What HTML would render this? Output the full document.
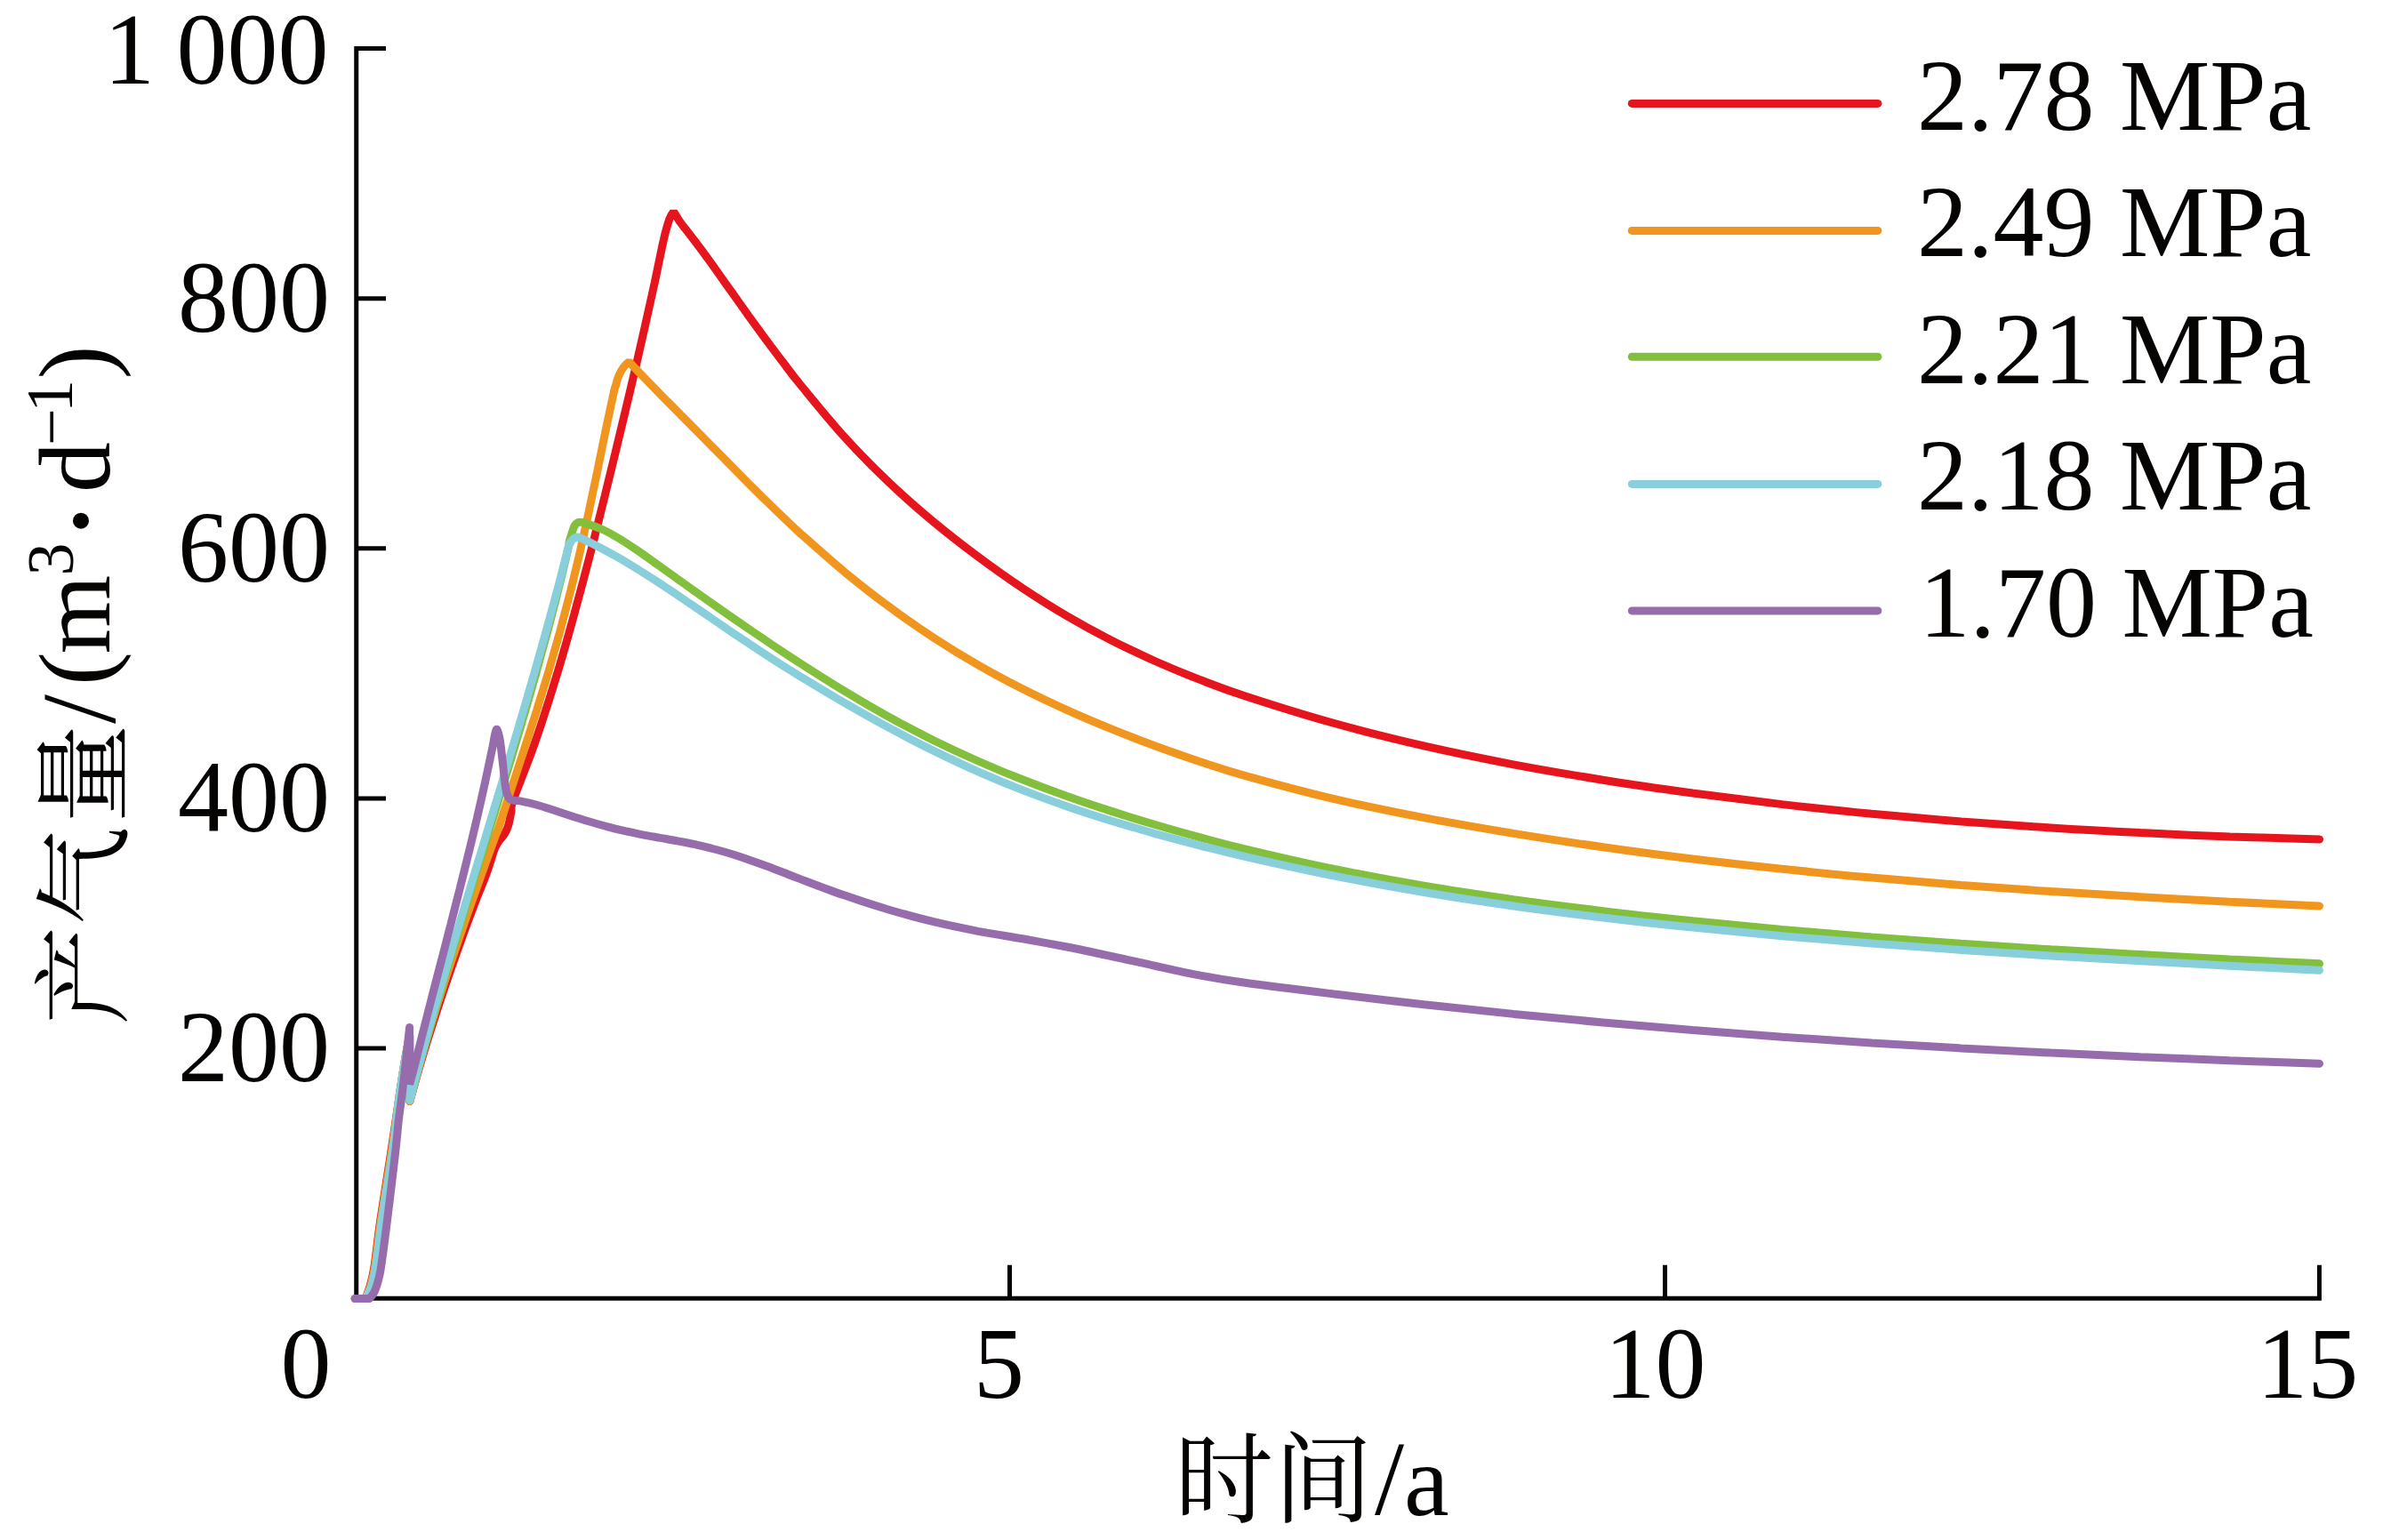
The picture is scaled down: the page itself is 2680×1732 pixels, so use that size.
<!DOCTYPE html>
<html lang="zh"><head><meta charset="utf-8"><title>产气量 - 时间</title>
<style>html,body{margin:0;padding:0;background:#fff}svg{display:block}</style></head>
<body>
<svg width="2680" height="1732" viewBox="0 0 2680 1732">
<rect width="2680" height="1732" fill="#fff"/>
<g stroke="#060303" stroke-width="5" fill="none">
<path d="M434 54.6 H400.75 V1460.25 H2608.4 V1422.75"/>
<path d="M400.75 335.73 H434"/>
<path d="M400.75 616.86 H434"/>
<path d="M400.75 897.99 H434"/>
<path d="M400.75 1179.12 H434"/>
<path d="M1135.5 1460.25 V1422.75"/>
<path d="M1872.5 1460.25 V1422.75"/>
</g>
<g fill="none" stroke-width="9" stroke-linecap="round" stroke-linejoin="bevel">
<path stroke="#E6141C" d="M399.2 1460.5 L411.0 1460.5 C411.8 1458.2 414.2 1452.9 415.9 1447.0 C417.5 1441.1 418.9 1437.6 420.9 1425.0 C422.9 1412.4 424.7 1393.3 427.9 1371.6 C431.1 1349.9 436.5 1317.3 439.9 1295.0 C443.3 1272.7 446.0 1254.2 448.5 1237.5 C451.0 1220.8 453.0 1207.1 455.0 1195.0 C457.0 1182.9 459.7 1170.0 460.6 1165.0 L460.8 1238.5 C463.0 1230.9 469.3 1208.1 473.8 1192.9 C478.3 1177.7 483.0 1162.5 487.9 1147.3 C492.8 1132.1 497.8 1116.9 503.0 1101.7 C508.2 1086.5 513.5 1071.3 519.0 1056.1 C524.5 1040.9 531.9 1021.4 536.0 1010.5 C540.2 999.6 541.8 996.3 543.9 990.9 C546.0 985.5 547.2 982.2 548.7 977.9 C550.2 973.6 551.9 968.1 552.9 964.9 C553.9 961.6 554.1 960.6 554.9 958.4 C555.7 956.2 556.4 954.0 557.5 951.9 C558.6 949.8 559.9 947.6 561.4 945.5 C562.9 943.4 565.1 941.2 566.6 939.0 C568.1 936.8 569.2 934.7 570.1 932.5 C571.0 930.3 571.5 929.2 572.3 926.0 C573.1 922.8 574.1 917.3 574.9 913.0 C575.7 908.7 573.3 911.3 577.2 900.0 C581.1 888.7 591.9 862.2 598.1 845.0 C604.3 827.9 609.2 813.1 614.3 797.1 C619.5 781.1 624.4 765.1 629.2 749.1 C633.9 733.2 638.5 717.2 642.9 701.2 C647.4 685.2 651.6 669.2 655.9 653.2 C660.1 637.2 664.2 621.3 668.3 605.3 C672.3 589.3 676.3 573.3 680.3 557.3 C684.2 541.3 688.1 525.4 692.0 509.4 C695.9 493.4 699.7 477.4 703.5 461.4 C707.3 445.4 711.0 429.4 714.8 413.5 C718.5 397.5 722.1 381.5 725.7 365.5 C729.3 349.5 732.9 333.5 736.3 317.6 C739.8 301.6 743.6 281.5 746.4 269.6 C749.1 257.7 751.0 251.5 752.9 246.2 C754.8 240.9 756.8 239.4 757.6 238.0 L764.7 249.6 C767.9 253.7 777.6 265.9 784.0 274.5 C790.5 283.0 796.9 292.0 803.4 301.0 C809.8 309.9 816.2 319.1 822.7 328.2 C829.1 337.2 835.6 346.3 842.0 355.3 C848.5 364.2 854.9 373.1 861.3 381.8 C867.8 390.5 874.2 399.1 880.7 407.6 C887.1 416.0 888.4 418.4 900.0 432.5 C911.6 446.5 933.3 473.4 950.0 491.8 C966.7 510.2 983.3 527.0 1000.0 542.8 C1016.7 558.7 1033.3 573.1 1050.0 587.0 C1066.7 600.9 1083.3 613.7 1100.0 626.1 C1116.7 638.5 1133.3 650.3 1150.0 661.5 C1166.7 672.6 1183.3 683.1 1200.0 692.9 C1216.7 702.7 1233.3 711.7 1250.0 720.2 C1266.7 728.7 1283.3 736.6 1300.0 744.0 C1316.7 751.4 1333.3 758.2 1350.0 764.6 C1366.7 771.1 1374.9 774.6 1400.0 782.7 C1425.1 790.9 1467.1 804.2 1500.7 813.5 C1534.3 822.9 1567.8 831.2 1601.4 838.9 C1635.0 846.6 1668.6 853.4 1702.1 859.8 C1735.7 866.2 1769.3 871.8 1802.8 877.2 C1836.4 882.6 1870.0 887.4 1903.5 892.0 C1937.1 896.5 1970.7 900.7 2004.2 904.6 C2037.8 908.4 2071.4 912.0 2105.0 915.2 C2138.5 918.4 2172.1 921.3 2205.7 924.0 C2239.2 926.6 2272.8 928.9 2306.4 931.0 C2339.9 933.2 2373.5 935.0 2407.1 936.6 C2440.7 938.3 2474.2 939.7 2507.8 940.9 C2541.4 942.1 2591.7 943.4 2608.5 943.9"/>
<circle cx="411.0" cy="1460.5" r="4.5" fill="#E6141C" stroke="none"/>
<circle cx="460.6" cy="1165.0" r="4.5" fill="#E6141C" stroke="none"/>
<circle cx="460.8" cy="1238.5" r="4.5" fill="#E6141C" stroke="none"/>
<path stroke="#F0961E" d="M399.2 1460.5 L411.0 1460.5 C411.9 1458.2 414.8 1452.9 416.5 1447.0 C418.2 1441.1 419.5 1437.6 421.5 1425.0 C423.5 1412.4 425.3 1393.3 428.5 1371.6 C431.7 1349.9 437.2 1317.3 440.5 1295.0 C443.8 1272.7 446.1 1254.2 448.5 1237.5 C450.9 1220.8 453.0 1207.1 455.0 1195.0 C457.0 1182.9 459.7 1170.0 460.6 1165.0 L460.8 1238.5 C462.7 1231.4 468.3 1210.0 472.3 1195.7 C476.3 1181.5 480.4 1167.2 484.7 1152.9 C489.0 1138.7 493.5 1124.4 498.1 1110.1 C502.6 1095.9 507.4 1081.6 512.2 1067.4 C517.0 1053.1 521.9 1038.8 526.9 1024.6 C531.9 1010.3 537.0 996.0 542.1 981.8 C547.2 967.5 554.5 947.2 557.6 939.0 C560.6 930.8 557.4 941.0 560.3 932.5 C563.2 924.0 569.9 902.7 574.8 887.9 C579.6 873.0 584.6 858.1 589.4 843.2 C594.2 828.4 599.0 813.5 603.7 798.6 C608.3 783.7 612.9 768.9 617.3 754.0 C621.6 739.1 625.9 724.2 630.0 709.4 C634.0 694.5 637.9 679.6 641.7 664.7 C645.4 649.9 648.9 635.0 652.4 620.1 C655.8 605.2 659.0 590.4 662.2 575.5 C665.4 560.6 668.5 545.7 671.6 530.9 C674.6 516.0 677.6 501.1 680.7 486.2 C683.8 471.4 688.2 450.4 690.2 441.6 C692.1 432.8 691.8 436.0 692.5 433.5 C693.2 431.0 693.8 428.5 694.5 426.4 C695.2 424.3 695.9 422.5 696.7 420.8 C697.5 419.1 698.5 417.3 699.3 416.0 C700.1 414.7 700.8 413.7 701.5 412.8 C702.2 411.9 702.8 411.1 703.5 410.4 C704.2 409.6 704.9 408.9 705.6 408.3 C706.3 407.7 707.2 407.1 707.5 406.9 C710.7 410.4 720.3 420.5 726.8 427.2 C733.2 433.8 739.6 440.3 746.0 446.8 C752.4 453.3 758.8 459.7 765.2 466.2 C771.7 472.6 778.1 479.1 784.5 485.6 C790.9 492.1 797.3 498.7 803.8 505.2 C810.2 511.7 816.6 518.2 823.0 524.7 C829.4 531.2 835.8 537.7 842.2 544.1 C848.7 550.5 855.1 556.9 861.5 563.1 C867.9 569.4 874.3 575.6 880.8 581.7 C887.2 587.8 888.5 589.5 900.0 599.8 C911.5 610.0 933.3 629.6 950.0 643.4 C966.7 657.1 983.3 670.1 1000.0 682.4 C1016.7 694.7 1033.3 706.3 1050.0 717.2 C1066.7 728.1 1083.3 738.3 1100.0 747.9 C1116.7 757.5 1133.3 766.4 1150.0 774.8 C1166.7 783.3 1183.3 791.1 1200.0 798.6 C1216.7 806.1 1233.3 813.1 1250.0 819.9 C1266.7 826.7 1283.3 833.1 1300.0 839.3 C1316.7 845.4 1333.3 851.3 1350.0 856.8 C1366.7 862.3 1374.9 865.4 1400.0 872.3 C1425.1 879.3 1467.1 890.7 1500.7 898.6 C1534.3 906.5 1567.8 913.2 1601.4 919.7 C1635.0 926.2 1668.6 931.9 1702.1 937.4 C1735.7 942.9 1769.3 948.0 1802.8 952.7 C1836.4 957.5 1870.0 961.9 1903.5 966.0 C1937.1 970.1 1970.7 973.8 2004.2 977.3 C2037.8 980.9 2071.4 984.1 2105.0 987.1 C2138.5 990.1 2172.1 992.8 2205.7 995.4 C2239.2 998.0 2272.8 1000.4 2306.4 1002.6 C2339.9 1004.8 2373.5 1006.8 2407.1 1008.7 C2440.7 1010.7 2474.2 1012.5 2507.8 1014.2 C2541.4 1015.9 2591.7 1018.2 2608.5 1019.0"/>
<circle cx="411.0" cy="1460.5" r="4.5" fill="#F0961E" stroke="none"/>
<circle cx="460.6" cy="1165.0" r="4.5" fill="#F0961E" stroke="none"/>
<circle cx="460.8" cy="1238.5" r="4.5" fill="#F0961E" stroke="none"/>
<path stroke="#82BF3C" d="M399.2 1460.5 L411.0 1460.5 C412.1 1458.2 415.6 1452.9 417.5 1447.0 C419.4 1441.1 420.5 1437.6 422.5 1425.0 C424.5 1412.4 426.3 1393.3 429.5 1371.6 C432.7 1349.9 438.3 1317.3 441.5 1295.0 C444.7 1272.7 446.2 1254.2 448.5 1237.5 C450.8 1220.8 453.0 1207.1 455.0 1195.0 C457.0 1182.9 459.7 1170.0 460.6 1165.0 L460.8 1238.0 C463.0 1230.0 469.4 1206.1 473.8 1190.1 C478.2 1174.2 482.7 1158.2 487.3 1142.2 C491.8 1126.3 496.5 1110.3 501.3 1094.3 C506.0 1078.4 510.8 1062.4 515.7 1046.5 C520.5 1030.5 525.4 1014.5 530.3 998.6 C535.2 982.6 540.1 966.7 545.1 950.7 C550.0 934.7 554.9 918.8 559.8 902.8 C564.7 886.8 569.5 870.9 574.3 854.9 C579.1 839.0 583.9 823.0 588.5 807.0 C593.2 791.1 597.8 775.1 602.3 759.2 C606.8 743.2 611.2 727.2 615.4 711.3 C619.7 695.3 623.9 679.3 627.8 663.4 C631.8 647.4 637.3 624.4 639.3 615.5 C641.4 606.6 639.5 612.2 640.0 610.0 C640.5 607.8 641.6 604.6 642.3 602.3 C643.0 600.0 643.8 597.6 644.3 596.0 C644.8 594.4 645.1 593.5 645.6 592.5 C646.1 591.5 646.6 590.5 647.2 589.7 C647.8 589.0 648.4 588.4 649.3 588.0 C650.1 587.6 651.1 587.3 652.3 587.3 C653.4 587.3 652.2 586.6 656.2 587.9 C660.2 589.2 669.7 591.9 676.5 595.0 C683.3 598.0 690.1 602.0 696.8 606.0 C703.6 610.1 710.4 614.7 717.2 619.3 C723.9 623.9 730.7 628.9 737.5 633.7 C744.2 638.5 751.0 643.4 757.8 648.2 C764.6 653.0 771.3 657.9 778.1 662.7 C784.9 667.5 791.6 672.3 798.4 677.0 C805.2 681.8 812.0 686.5 818.7 691.2 C825.5 695.9 832.3 700.6 839.0 705.3 C845.8 709.9 852.6 714.5 859.4 719.1 C866.1 723.7 872.9 728.2 879.7 732.7 C886.5 737.2 888.3 738.6 900.0 746.0 C911.7 753.5 933.3 767.4 950.0 777.4 C966.7 787.5 983.3 797.3 1000.0 806.5 C1016.7 815.7 1033.3 824.4 1050.0 832.7 C1066.7 840.9 1083.3 848.6 1100.0 856.0 C1116.7 863.4 1133.3 870.3 1150.0 876.8 C1166.7 883.4 1183.3 889.6 1200.0 895.5 C1216.7 901.5 1233.3 907.0 1250.0 912.4 C1266.7 917.8 1283.3 922.9 1300.0 927.8 C1316.7 932.8 1333.3 937.4 1350.0 941.9 C1366.7 946.4 1374.9 948.9 1400.0 954.8 C1425.1 960.8 1467.1 970.6 1500.7 977.5 C1534.3 984.3 1567.8 990.5 1601.4 996.2 C1635.0 1001.9 1668.6 1006.9 1702.1 1011.7 C1735.7 1016.4 1769.3 1020.6 1802.8 1024.6 C1836.4 1028.7 1870.0 1032.3 1903.5 1035.8 C1937.1 1039.3 1970.7 1042.5 2004.2 1045.5 C2037.8 1048.5 2071.4 1051.3 2105.0 1054.0 C2138.5 1056.6 2172.1 1059.0 2205.7 1061.3 C2239.2 1063.7 2272.8 1065.8 2306.4 1067.8 C2339.9 1069.9 2373.5 1071.8 2407.1 1073.6 C2440.7 1075.5 2474.2 1077.2 2507.8 1078.9 C2541.4 1080.6 2591.7 1083.0 2608.5 1083.8"/>
<circle cx="411.0" cy="1460.5" r="4.5" fill="#82BF3C" stroke="none"/>
<circle cx="460.6" cy="1165.0" r="4.5" fill="#82BF3C" stroke="none"/>
<circle cx="460.8" cy="1238.0" r="4.5" fill="#82BF3C" stroke="none"/>
<path stroke="#88CEDB" d="M399.2 1460.5 L411.0 1460.5 C412.1 1458.2 415.6 1452.9 417.5 1447.0 C419.4 1441.1 420.5 1437.6 422.5 1425.0 C424.5 1412.4 426.3 1393.3 429.5 1371.6 C432.7 1349.9 438.3 1317.3 441.5 1295.0 C444.7 1272.7 446.2 1254.2 448.5 1237.5 C450.8 1220.8 453.0 1207.1 455.0 1195.0 C457.0 1182.9 459.7 1170.0 460.6 1165.0 L460.8 1237.6 C462.9 1229.6 469.0 1205.7 473.3 1189.7 C477.7 1173.8 482.2 1157.8 486.7 1141.9 C491.2 1125.9 495.8 1110.0 500.5 1094.0 C505.1 1078.1 509.8 1062.1 514.6 1046.2 C519.3 1030.2 524.1 1014.3 528.9 998.3 C533.7 982.4 538.5 966.4 543.4 950.5 C548.2 934.5 553.0 918.6 557.8 902.6 C562.7 886.7 567.5 870.7 572.2 854.8 C577.0 838.8 581.7 822.9 586.4 806.9 C591.1 791.0 595.8 775.0 600.3 759.1 C604.9 743.1 609.4 727.2 613.8 711.2 C618.2 695.3 622.6 679.3 626.8 663.4 C631.1 647.4 636.9 624.1 639.2 615.5 C641.6 606.9 640.4 612.7 641.0 611.5 C641.6 610.3 641.9 609.4 642.6 608.4 C643.3 607.4 644.2 606.3 645.2 605.6 C646.2 604.9 647.2 604.3 648.4 604.2 C649.6 604.1 648.4 603.1 652.5 604.9 C656.6 606.7 666.2 611.4 673.1 614.9 C680.0 618.5 686.9 622.3 693.8 626.2 C700.6 630.1 707.5 634.2 714.4 638.5 C721.2 642.7 728.1 647.1 735.0 651.5 C741.9 656.0 748.8 660.5 755.6 665.1 C762.5 669.7 769.4 674.4 776.2 679.1 C783.1 683.7 790.0 688.4 796.9 693.1 C803.8 697.8 810.6 702.5 817.5 707.2 C824.4 711.8 831.2 716.5 838.1 721.1 C845.0 725.7 851.9 730.2 858.8 734.7 C865.6 739.2 872.5 743.6 879.4 748.0 C886.2 752.3 888.2 753.7 900.0 760.8 C911.8 767.9 933.3 781.0 950.0 790.6 C966.7 800.2 983.3 809.6 1000.0 818.6 C1016.7 827.5 1033.3 836.2 1050.0 844.4 C1066.7 852.6 1083.3 860.5 1100.0 867.8 C1116.7 875.2 1133.3 882.1 1150.0 888.6 C1166.7 895.1 1183.3 901.1 1200.0 906.9 C1216.7 912.7 1233.3 918.0 1250.0 923.2 C1266.7 928.3 1283.3 933.1 1300.0 937.8 C1316.7 942.4 1333.3 946.8 1350.0 951.1 C1366.7 955.3 1374.9 957.6 1400.0 963.3 C1425.1 969.0 1467.1 978.4 1500.7 985.1 C1534.3 991.8 1567.8 997.9 1601.4 1003.5 C1635.0 1009.2 1668.6 1014.3 1702.1 1019.0 C1735.7 1023.8 1769.3 1028.0 1802.8 1032.0 C1836.4 1036.1 1870.0 1039.7 1903.5 1043.1 C1937.1 1046.6 1970.7 1049.7 2004.2 1052.7 C2037.8 1055.7 2071.4 1058.5 2105.0 1061.1 C2138.5 1063.7 2172.1 1066.1 2205.7 1068.4 C2239.2 1070.7 2272.8 1072.9 2306.4 1074.9 C2339.9 1077.0 2373.5 1078.9 2407.1 1080.8 C2440.7 1082.7 2474.2 1084.4 2507.8 1086.2 C2541.4 1087.9 2591.7 1090.4 2608.5 1091.2"/>
<circle cx="411.0" cy="1460.5" r="4.5" fill="#88CEDB" stroke="none"/>
<circle cx="460.6" cy="1165.0" r="4.5" fill="#88CEDB" stroke="none"/>
<circle cx="460.8" cy="1237.6" r="4.5" fill="#88CEDB" stroke="none"/>
<path stroke="#966CAC" d="M399.2 1460.5 L415.4 1460.5 C416.4 1459.1 419.4 1457.2 421.5 1452.0 C423.6 1446.8 425.5 1442.4 427.9 1429.0 C430.2 1415.6 432.8 1393.9 435.6 1371.6 C438.4 1349.3 442.7 1313.6 444.8 1295.0 C446.9 1276.4 447.2 1269.6 448.3 1260.0 C449.4 1250.4 450.1 1246.8 451.3 1237.5 C452.5 1228.2 453.8 1217.6 455.3 1203.9 C456.9 1190.2 459.7 1163.5 460.6 1155.4 L460.6 1219.6 C461.1 1217.9 462.4 1212.8 463.3 1209.5 C464.2 1206.2 463.8 1208.2 465.9 1200.0 C468.0 1191.8 472.5 1173.3 475.9 1160.0 C479.3 1146.7 482.7 1133.3 486.1 1120.0 C489.6 1106.7 493.0 1093.3 496.5 1080.0 C499.9 1066.7 503.4 1053.3 506.8 1040.0 C510.2 1026.7 513.6 1013.3 517.0 1000.0 C520.3 986.7 523.7 973.3 526.9 960.0 C530.2 946.7 533.4 933.3 536.5 920.0 C539.6 906.7 542.6 893.3 545.5 880.0 C548.4 866.7 552.1 849.0 554.0 840.0 C555.8 831.0 555.8 829.3 556.6 826.0 C557.4 822.7 557.9 820.3 558.6 820.2 C559.3 820.1 560.1 823.1 560.8 825.5 C561.5 827.9 561.8 829.1 562.6 834.5 C563.4 839.9 564.5 850.1 565.4 858.0 C566.3 865.9 567.3 876.2 568.1 882.0 C568.9 887.8 569.1 889.7 570.0 892.5 C570.9 895.3 571.9 897.5 573.3 898.8 C574.7 900.1 576.5 899.9 578.5 900.3 C580.5 900.6 580.6 900.0 585.0 900.9 C589.4 901.8 598.1 903.7 604.7 905.5 C611.2 907.3 617.8 909.7 624.4 911.8 C630.9 913.9 637.5 916.1 644.1 918.2 C650.6 920.3 657.2 922.3 663.8 924.3 C670.3 926.2 676.9 928.1 683.4 929.8 C690.0 931.6 696.6 933.2 703.1 934.7 C709.7 936.2 716.2 937.5 722.8 938.8 C729.4 940.1 735.9 941.2 742.5 942.4 C749.1 943.6 755.6 944.6 762.2 945.9 C768.8 947.1 775.3 948.3 781.9 949.7 C788.4 951.2 795.0 952.7 801.6 954.5 C808.1 956.2 814.7 958.0 821.2 960.0 C827.8 962.0 834.4 964.2 840.9 966.4 C847.5 968.7 854.1 971.1 860.6 973.5 C867.2 975.9 873.8 978.5 880.3 981.0 C886.9 983.5 888.4 984.3 900.0 988.6 C911.6 993.0 933.3 1001.4 950.0 1007.1 C966.7 1012.9 983.3 1018.3 1000.0 1023.2 C1016.7 1028.1 1033.3 1032.7 1050.0 1036.7 C1066.7 1040.7 1083.3 1044.1 1100.0 1047.3 C1116.7 1050.4 1133.3 1052.9 1150.0 1055.8 C1166.7 1058.8 1183.3 1061.8 1200.0 1065.0 C1216.7 1068.3 1233.3 1071.9 1250.0 1075.5 C1266.7 1079.0 1283.3 1082.9 1300.0 1086.5 C1316.7 1090.2 1333.3 1094.0 1350.0 1097.1 C1366.7 1100.2 1374.9 1101.8 1400.0 1105.3 C1425.1 1108.8 1467.1 1113.9 1500.7 1118.0 C1534.3 1122.0 1567.8 1126.0 1601.4 1129.7 C1635.0 1133.5 1668.6 1137.0 1702.1 1140.4 C1735.7 1143.8 1769.3 1147.0 1802.8 1150.0 C1836.4 1153.1 1870.0 1155.9 1903.5 1158.6 C1937.1 1161.3 1970.7 1163.8 2004.2 1166.2 C2037.8 1168.6 2071.4 1170.8 2105.0 1172.9 C2138.5 1175.0 2172.1 1177.0 2205.7 1178.9 C2239.2 1180.7 2272.8 1182.5 2306.4 1184.1 C2339.9 1185.7 2373.5 1187.2 2407.1 1188.7 C2440.7 1190.1 2474.2 1191.5 2507.8 1192.7 C2541.4 1194.0 2591.7 1195.7 2608.5 1196.3"/>
<circle cx="415.4" cy="1460.5" r="4.5" fill="#966CAC" stroke="none"/>
<circle cx="460.6" cy="1155.4" r="4.5" fill="#966CAC" stroke="none"/>
</g>
<g stroke-width="9" stroke-linecap="round">
<path stroke="#E6141C" d="M1835.3 116.4 H2111.9"/>
<path stroke="#F0961E" d="M1835.3 259.4 H2111.9"/>
<path stroke="#82BF3C" d="M1835.3 401.3 H2111.9"/>
<path stroke="#88CEDB" d="M1835.3 544.4 H2111.9"/>
<path stroke="#966CAC" d="M1835.3 686.9 H2111.9"/>
</g>
<g font-family="'Liberation Serif', 'Noto Serif CJK SC', serif" font-size="114" fill="#060303">
<text x="2156" y="145.8">2.78 MPa</text>
<text x="2156" y="288.3">2.49 MPa</text>
<text x="2156" y="430.8">2.21 MPa</text>
<text x="2156" y="573.3">2.18 MPa</text>
<text x="2158.5" y="715.8">1.70 MPa</text>
<text x="369.5" y="93.6" text-anchor="end">1<tspan dx="-4"> 000</tspan></text>
<text x="371" y="372.7" text-anchor="end">800</text>
<text x="371" y="653.9" text-anchor="end">600</text>
<text x="371" y="935.0" text-anchor="end">400</text>
<text x="371" y="1216.1" text-anchor="end">200</text>
<text x="315.5" y="1571.5">0</text>
<text x="1095" y="1571.5">5</text>
<text x="1804.4" y="1571.5">10</text>
<text x="2538.2" y="1571.5">15</text>
<text y="1703.5"><tspan x="1321" font-size="111">时</tspan><tspan x="1432.4" font-size="111">间</tspan><tspan x="1546" y="1702.5" font-size="119">/</tspan><tspan x="1579" y="1704">a</tspan></text>
<text transform="rotate(-90)"><tspan x="-1152.8" y="134.3" font-size="111">产</tspan><tspan x="-1040.4" y="134.5" font-size="111">气</tspan><tspan x="-925.5" y="133.7" font-size="111">量</tspan><tspan x="-814.0" y="128.6" font-size="119">/</tspan><tspan x="-771.0" y="122.5" font-size="114">(</tspan><tspan x="-735.6" y="122.5" font-size="114">m</tspan><tspan x="-647.6" y="81.5" font-size="74">3</tspan><tspan x="-611.0" y="141.8" font-size="152">·</tspan><tspan x="-553.9" y="122.5" font-size="114">d</tspan><tspan x="-501.1" y="82.8" font-size="74">−</tspan><tspan x="-464.0" y="80.8" font-size="74">1</tspan><tspan x="-426.6" y="122.5" font-size="114">)</tspan></text>
</g>
</svg>
</body></html>
